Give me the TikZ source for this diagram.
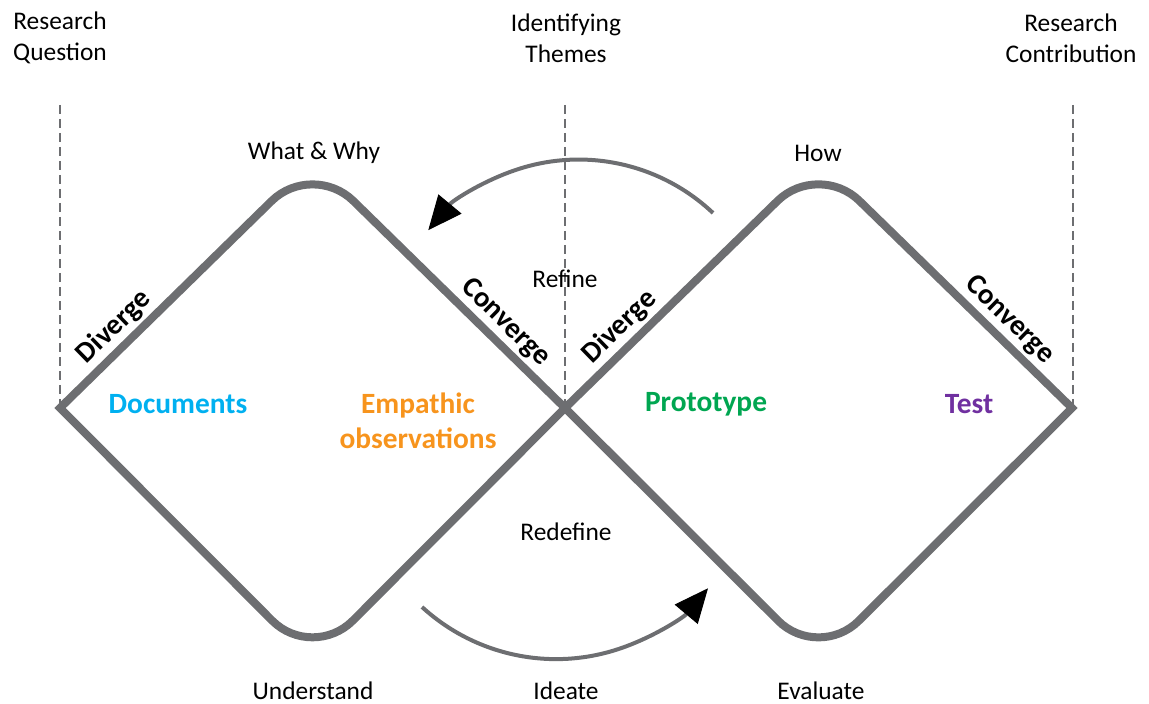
\documentclass[tikz,border=0pt]{standalone}
\usepackage{fontspec}
\setmainfont{Carlito}
\usetikzlibrary{arrows.meta,calc}
\definecolor{loopgray}{RGB}{109,110,113}
\definecolor{docblue}{RGB}{0,176,240}
\definecolor{emporange}{RGB}{247,148,29}
\definecolor{protogreen}{RGB}{0,166,81}
\definecolor{testpurple}{RGB}{112,48,160}
\begin{document}
\begin{tikzpicture}[x=0.5pt,y=-0.5pt,
	lbl/.style={font=\fontsize{12.7}{15.5}\selectfont, align=center},
	phase/.style={font=\bfseries\fontsize{14.7}{17.5}\selectfont, align=center},
	mode/.style={font=\bfseries\fontsize{14.5}{17}\selectfont, sloped, above, inner sep=3.5pt},
	guide/.style={draw=loopgray, line width=0.7pt, dash pattern=on 4.5pt off 2.5pt},
	loopline/.style={draw=loopgray, line width=4pt, line join=miter},
	looparrow/.style={draw=loopgray, line width=2pt, -{Triangle[length=17pt,width=15pt,line width=0.5pt,color=black]}}]
	\useasboundingbox (0,0) rectangle (1149,704);

	\coordinate (L0) at (60,408);
	\coordinate (T1) at (312.5,161);
	\coordinate (C) at (565,408);
	\coordinate (B1) at (312.5,661);
	\coordinate (T2) at (818.5,161);
	\coordinate (R0) at (1072,408);
	\coordinate (B2) at (818.5,661);

	% stage markers
	\node[lbl] (rq) at (60,38) {Research\\Question};
	\node[lbl] (it) at (566,38) {Identifying\\Themes};
	\node[lbl] (rc) at (1071,38) {Research\\Contribution};
	\coordinate (rqEnd) at (60,105);
	\coordinate (itEnd) at (565,105);
	\coordinate (rcEnd) at (1073,105);
	\draw[guide] (rqEnd) -- (L0);
	\draw[guide] (itEnd) -- (C);
	\draw[guide] (rcEnd) -- (1073,408);

	% double diamond
	\draw[loopline] (L0) -- ($(T1)!28.5pt!(L0)$) .. controls ($(T1)!12.8pt!(L0)$) and ($(T1)!12.8pt!(C)$) .. ($(T1)!28.5pt!(C)$)
		-- (C) -- ($(B2)!28.5pt!(C)$) .. controls ($(B2)!12.8pt!(C)$) and ($(B2)!12.8pt!(R0)$) .. ($(B2)!28.5pt!(R0)$)
		-- (R0) -- ($(T2)!28.5pt!(R0)$) .. controls ($(T2)!12.8pt!(R0)$) and ($(T2)!12.8pt!(C)$) .. ($(T2)!28.5pt!(C)$)
		-- (C) -- ($(B1)!28.5pt!(C)$) .. controls ($(B1)!12.8pt!(C)$) and ($(B1)!12.8pt!(L0)$) .. ($(B1)!28.5pt!(L0)$)
		-- cycle;

	\path (L0) -- (T1) node[mode, pos=.27] (diverge1) {Diverge};
	\path (T1) -- (C) node[mode, pos=.71] (converge1) {Converge};
	\path (C) -- (T2) node[mode, pos=.27] (diverge2) {Diverge};
	\path (T2) -- (R0) node[mode, pos=.70] (converge2) {Converge};

	\node[phase, text=docblue] (documents) at (178,404) {Documents};
	\node[phase, text=emporange] (empathic) at (418,421) {Empathic\\observations};
	\node[phase, text=protogreen] (prototype) at (706,404) {Prototype};
	\node[phase, text=testpurple] (test) at (969,404) {Test};

	\node[lbl] (whatwhy) at (314,153) {What \& Why};
	\node[lbl] (how) at (818,153) {How};
	\node[lbl] (refine) at (565,279) {Refine};
	\node[lbl] (redefine) at (566,532) {Redefine};
	\node[lbl] (understand) at (313,691) {Understand};
	\node[lbl] (ideate) at (566,691) {Ideate};
	\node[lbl] (evaluate) at (821,691) {Evaluate};

	% loops
	\coordinate (refineS) at (713,213);
	\draw[looparrow] (refineS) arc[start angle=-46.6, end angle=-140.3, radius=195.5];
	\coordinate (ideateS) at (422,607);
	\draw[looparrow] (ideateS) arc[start angle=132.5, end angle=40, radius=198.4];
\end{tikzpicture}
\end{document}
